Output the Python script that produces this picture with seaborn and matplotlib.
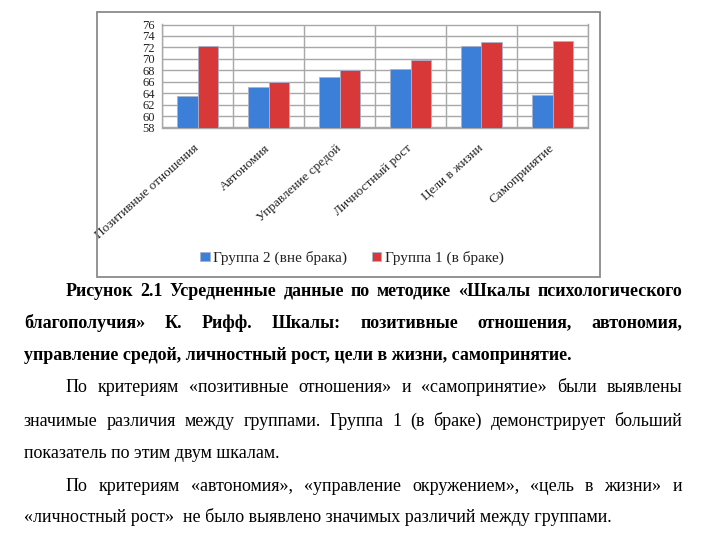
import numpy as np
import pandas as pd
import matplotlib
matplotlib.use("Agg")
import matplotlib.pyplot as plt
from matplotlib.patches import Rectangle
from matplotlib.transforms import ScaledTranslation
from matplotlib.backends.backend_agg import get_hinting_flag
import seaborn as sns

# ---- data ----
categories = ["Позитивные отношения", "Автономия", "Управление средой",
              "Личностный рост", "Цели в жизни", "Самопринятие"]
series_names = ["Группа 2 (вне брака)", "Группа 1 (в браке)"]
group2_values = [63.5, 65.0, 66.9, 68.2, 72.2, 63.6]
group1_values = [72.2, 66.0, 68.1, 69.8, 72.9, 73.2]
y_ticks = [58, 60, 62, 64, 66, 68, 70, 72, 74, 76]

caption_lines = [
    "Рисунок 2.1  Усредненные данные по методике «Шкалы психологического",
    "благополучия» К. Рифф. Шкалы: позитивные отношения, автономия,",
    "управление средой, личностный рост, цели в жизни, самопринятие.",
]
body_lines = [
    "По критериям «позитивные отношения» и «самопринятие» были выявлены",
    "значимые различия между группами. Группа 1 (в браке) демонстрирует больший",
    "показатель по этим двум шкалам.",
    "По критериям «автономия», «управление окружением», «цель в жизни» и",
    "«личностный рост»  не было выявлено значимых различий между группами.",
]

# ---- style ----
sns.set_theme(style="white")
plt.rcParams["font.family"] = ["Liberation Serif", "DejaVu Serif"]

W, H = 720, 540
fig = plt.figure(figsize=(7.2, 5.4), dpi=100)


def fx(x):
    return x / W


def fy(y):
    return 1 - y / H


# chart frame
fig.patches.append(Rectangle((fx(97), fy(277)), fx(600) - fx(97), fy(12) - fy(277),
                             transform=fig.transFigure, fill=False,
                             edgecolor="#8a8a8a", linewidth=1.3))

ax = fig.add_axes([fx(162), fy(127.5), (588 - 162) / W, (127.5 - 24.5) / H])

df = pd.DataFrame({
    "Шкала": categories * 2,
    "Группа": [series_names[0]] * len(categories) + [series_names[1]] * len(categories),
    "Значение": group2_values + group1_values,
})

blue = "#3b7fd9"
red = "#d93838"
sns.barplot(data=df, x="Шкала", y="Значение", hue="Группа",
            palette=[blue, red], saturation=1, width=0.58, gap=0,
            edgecolor="#a9b2cc", linewidth=0.6, ax=ax, zorder=3)

ax.set_ylim(58, 76)
ax.set_xlim(-0.5, 5.5)
ax.set_yticks(y_ticks)
ax.set_xlabel("")
ax.set_ylabel("")
gridc = "#a8a8a8"
ax.set_axisbelow(True)
ax.yaxis.grid(True, color=gridc, linewidth=1.0)
ax.set_xticks(np.arange(-0.5, 6, 1), minor=True)
ax.xaxis.grid(True, which="minor", color=gridc, linewidth=1.0)
ax.xaxis.grid(False, which="major")
ax.set_xticks(range(len(categories)))
ax.set_xticklabels(categories, rotation=42, ha="right", va="center",
                   rotation_mode="anchor", fontsize=9.5, color="#222222")
shift = ScaledTranslation(4 / 100, 0, fig.dpi_scale_trans)
for lab in ax.get_xticklabels():
    lab.set_transform(lab.get_transform() + shift)
ax.tick_params(axis="x", which="major", length=0, pad=14)
ax.tick_params(axis="x", which="minor", length=4, color=gridc, direction="out", width=1)
ax.tick_params(axis="y", length=4, color=gridc, direction="out", width=1,
               labelsize=9, pad=1, labelcolor="#222222")
for s in ax.spines.values():
    s.set_color(gridc)
    s.set_linewidth(1.0)

sns.move_legend(ax, "center", bbox_to_anchor=(fx(352), fy(258)),
                bbox_transform=fig.transFigure, ncol=2, frameon=False, title=None,
                fontsize=11, handlelength=0.6, handleheight=0.6,
                handletextpad=0.25, columnspacing=1.6)
for t in ax.get_legend().get_texts():
    t.set_color("#222222")

# ---- text below chart ----
LEFT, INDENT, RIGHT = 24, 66, 682
FS = 13
rows = [
    (caption_lines[0], True, INDENT, True, 296),
    (caption_lines[1], True, LEFT, True, 328),
    (caption_lines[2], True, LEFT, False, 360),
    (body_lines[0], False, INDENT, True, 392),
    (body_lines[1], False, LEFT, True, 426),
    (body_lines[2], False, LEFT, False, 458),
    (body_lines[3], False, INDENT, True, 491),
    (body_lines[4], False, LEFT, False, 522),
]

renderer = fig.canvas.get_renderer()


def snap_baseline(t, s, row):
    """Place text t so that its rendered baseline falls exactly on pixel row `row`."""
    try:
        font = renderer._prepare_font(t.get_fontproperties())
        font.set_text(s, 0, flags=get_hinting_flag())
        _, h26 = font.get_width_height()
        d26 = font.get_descent()
        A = (h26 - d26) / 64.0
        D = d26 / 64.0
        yf = row - np.floor(A) + (h26 // 64) - D
    except Exception:
        yf = row
    t.set_y(1 - yf / H)


for text, bold, x0, justify, yb in rows:
    weight = "bold" if bold else "normal"
    if not justify:
        t = fig.text(fx(x0), fy(yb), text, fontsize=FS, fontweight=weight,
                     va="baseline", ha="left", color="black")
        snap_baseline(t, text, yb)
        continue
    words = text.split()
    objs = [fig.text(fx(x0), fy(yb), w, fontsize=FS, fontweight=weight,
                     va="baseline", ha="left", color="black") for w in words]
    widths = [o.get_window_extent(renderer).width for o in objs]
    gap = (RIGHT - x0 - sum(widths)) / (len(words) - 1)
    x = x0
    for o, w, wd in zip(objs, words, widths):
        o.set_x(fx(x))
        snap_baseline(o, w, yb)
        x += wd + gap

fig.savefig("out.png", dpi=100)
